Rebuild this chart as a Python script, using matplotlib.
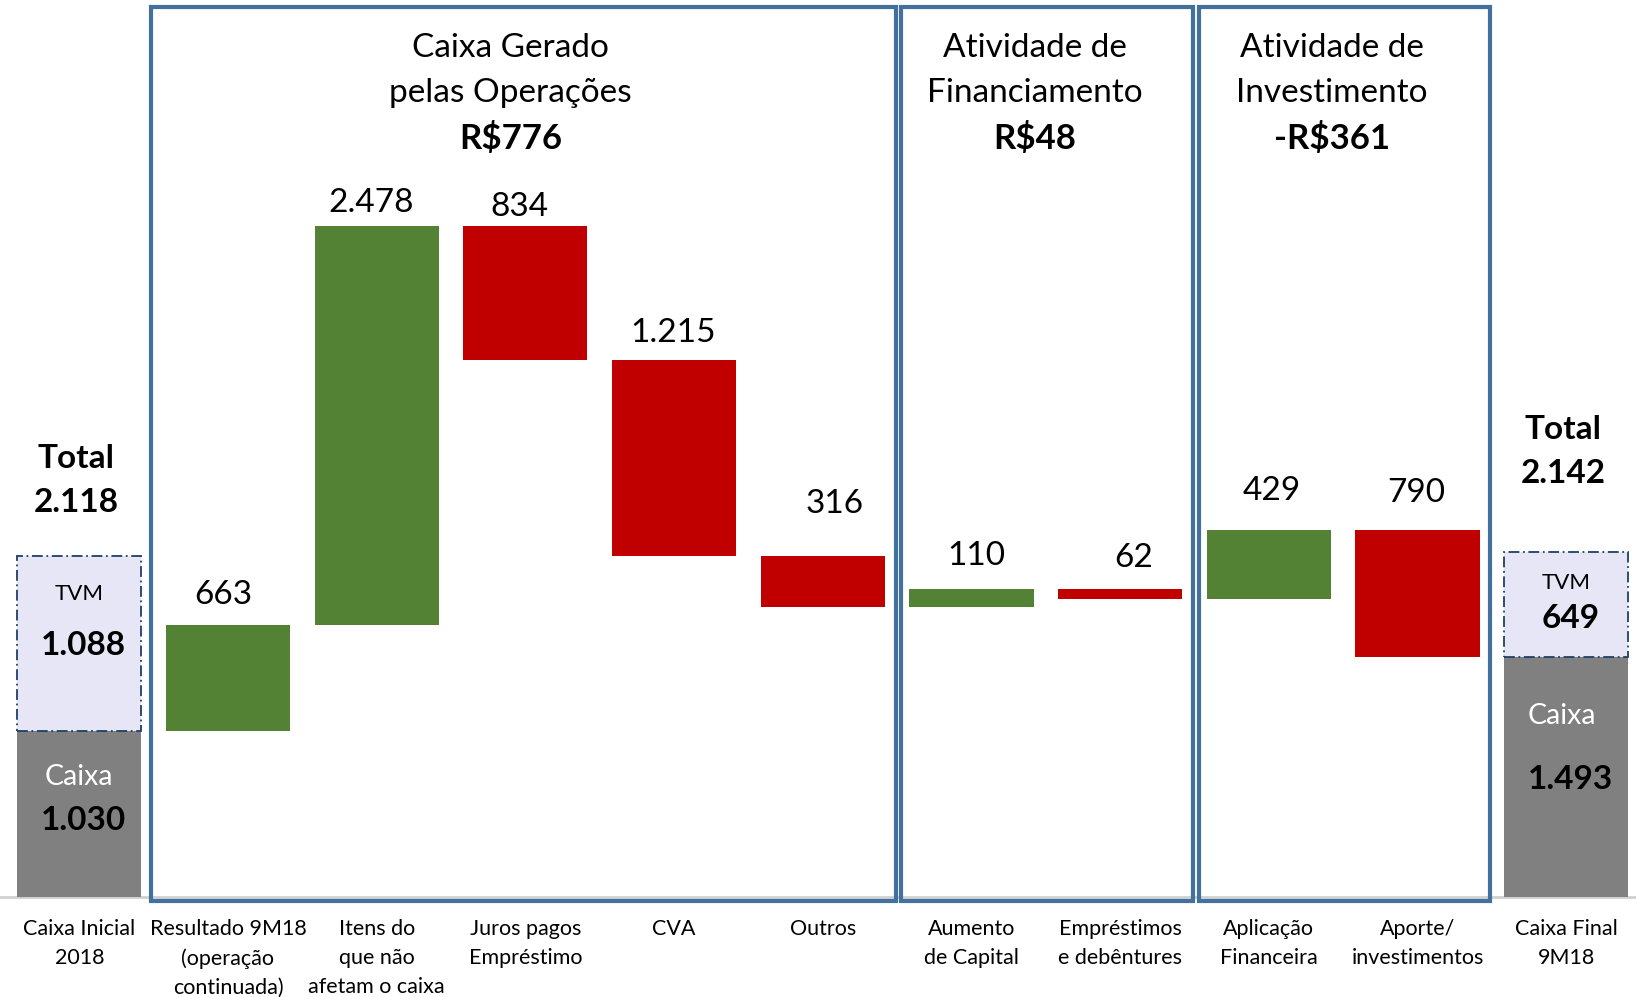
import matplotlib
matplotlib.use("Agg")
import matplotlib.pyplot as plt
from matplotlib.patches import Rectangle

plt.rcParams['font.family'] = ['Lato', 'DejaVu Sans']

categories = ["Caixa Inicial\n2018", "Resultado 9M18\n(operação\ncontinuada)",
              "Itens do\nque não\nafetam o caixa", "Juros pagos\nEmpréstimo", "CVA",
              "Outros", "Aumento\nde Capital", "Empréstimos\ne debêntures",
              "Aplicação\nFinanceira", "Aporte/\ninvestimentos", "Caixa Final\n9M18"]
start_caixa = 1030
start_tvm = 1088
deltas = [663, 2478, -834, -1215, -316, 110, -62, 429, -790]
end_caixa = 1493
end_tvm = 649

groups = [("Caixa Gerado\npelas Operações", "R$776", 1, 5),
          ("Atividade de\nFinanciamento", "R$48", 6, 7),
          ("Atividade de\nInvestimento", "-R$361", 8, 9)]

GREEN = "#548235"
RED = "#c00000"
GRAY = "#808080"
BLUE = "#41719c"
TVM_FILL = "#e6e6f7"
TVM_EDGE = "#1f3f66"


def fmt(v):
    return f"{abs(v):,}".replace(",", ".")


fig = plt.figure(figsize=(16.36, 9.97), dpi=100)
ax = fig.add_axes([0, 0, 1, 1])
ax.set_xlim(-0.533, 10.469)
ax.set_ylim(-619, 5573)
ax.axis("off")

w = 0.835

# baseline
ax.plot([-0.533, 10.469], [0, 0], color="#d0d0d0", lw=2, zorder=1)

# start / end stacked bars
for i, caixa, tvm in [(0, start_caixa, start_tvm), (10, end_caixa, end_tvm)]:
    ax.bar(i, caixa, width=w, color=GRAY, zorder=2)
    ax.bar(i, tvm, bottom=caixa, width=w, color=TVM_FILL, edgecolor=TVM_EDGE,
           linestyle=(0, (6, 2, 1, 2)), linewidth=1.3, zorder=2)

# waterfall steps
level = start_caixa
label_dy = [30, 23, 19, 27, 52, 33, 31, 39, 37]
label_dx = [-0.03, -0.04, -0.04, -0.01, 0.08, 0.03, 0.09, 0.02, -0.01]
for k, d in enumerate(deltas):
    i = k + 1
    lo, hi = (level, level + d) if d > 0 else (level + d, level)
    ax.bar(i, hi - lo, bottom=lo, width=w, color=GREEN if d > 0 else RED, zorder=2)
    ax.annotate(fmt(d), (i + label_dx[k], hi), xytext=(0, label_dy[k]),
                textcoords="offset pixels", ha="center", va="center", fontsize=24)
    level += d

# group boxes and titles
left_pad = [0.516, 0.471, 0.471]
for (title, total, a, b), lp in zip(groups, left_pad):
    x0, x1 = a - lp, b + 0.49
    ax.add_patch(Rectangle((x0, -20), x1 - x0, 5548, fill=False, edgecolor=BLUE,
                           linewidth=3, zorder=3))
    xc = (x0 + x1) / 2 - 0.085
    ax.text(xc, 0.929, title, transform=ax.get_xaxis_transform(), ha="center",
            va="center", fontsize=24, linespacing=1.62)
    ax.text(xc, 0.861, total, transform=ax.get_xaxis_transform(), ha="center",
            va="center", fontsize=25, fontweight="bold")

# totals
ax.text(-0.02, 2590, "Total\n" + fmt(start_caixa + start_tvm), ha="center", va="center",
        fontsize=24, fontweight="bold", linespacing=1.65)
ax.text(9.98, 2770, "Total\n" + fmt(end_caixa + end_tvm), ha="center", va="center",
        fontsize=24, fontweight="bold", linespacing=1.65)

# inner labels
ax.text(0, 1886, "TVM", ha="center", va="center", fontsize=16)
ax.text(0.03, 1561, fmt(start_tvm), ha="center", va="center", fontsize=24, fontweight="bold")
ax.text(0, 745, "Caixa", ha="center", va="center", fontsize=20.5, color="white")
ax.text(0.03, 475, fmt(start_caixa), ha="center", va="center", fontsize=24, fontweight="bold")

ax.text(10, 1950, "TVM", ha="center", va="center", fontsize=16)
ax.text(10.03, 1730, fmt(end_tvm), ha="center", va="center", fontsize=24, fontweight="bold")
ax.text(9.97, 1125, "Caixa", ha="center", va="center", fontsize=20.5, color="white")
ax.text(10.03, 730, fmt(end_caixa), ha="center", va="center", fontsize=24, fontweight="bold")

# category labels
for i, c in enumerate(categories):
    ax.text(i, -135, c, ha="center", va="top", fontsize=15.5, linespacing=1.55)

fig.savefig("out.png", dpi=100)
